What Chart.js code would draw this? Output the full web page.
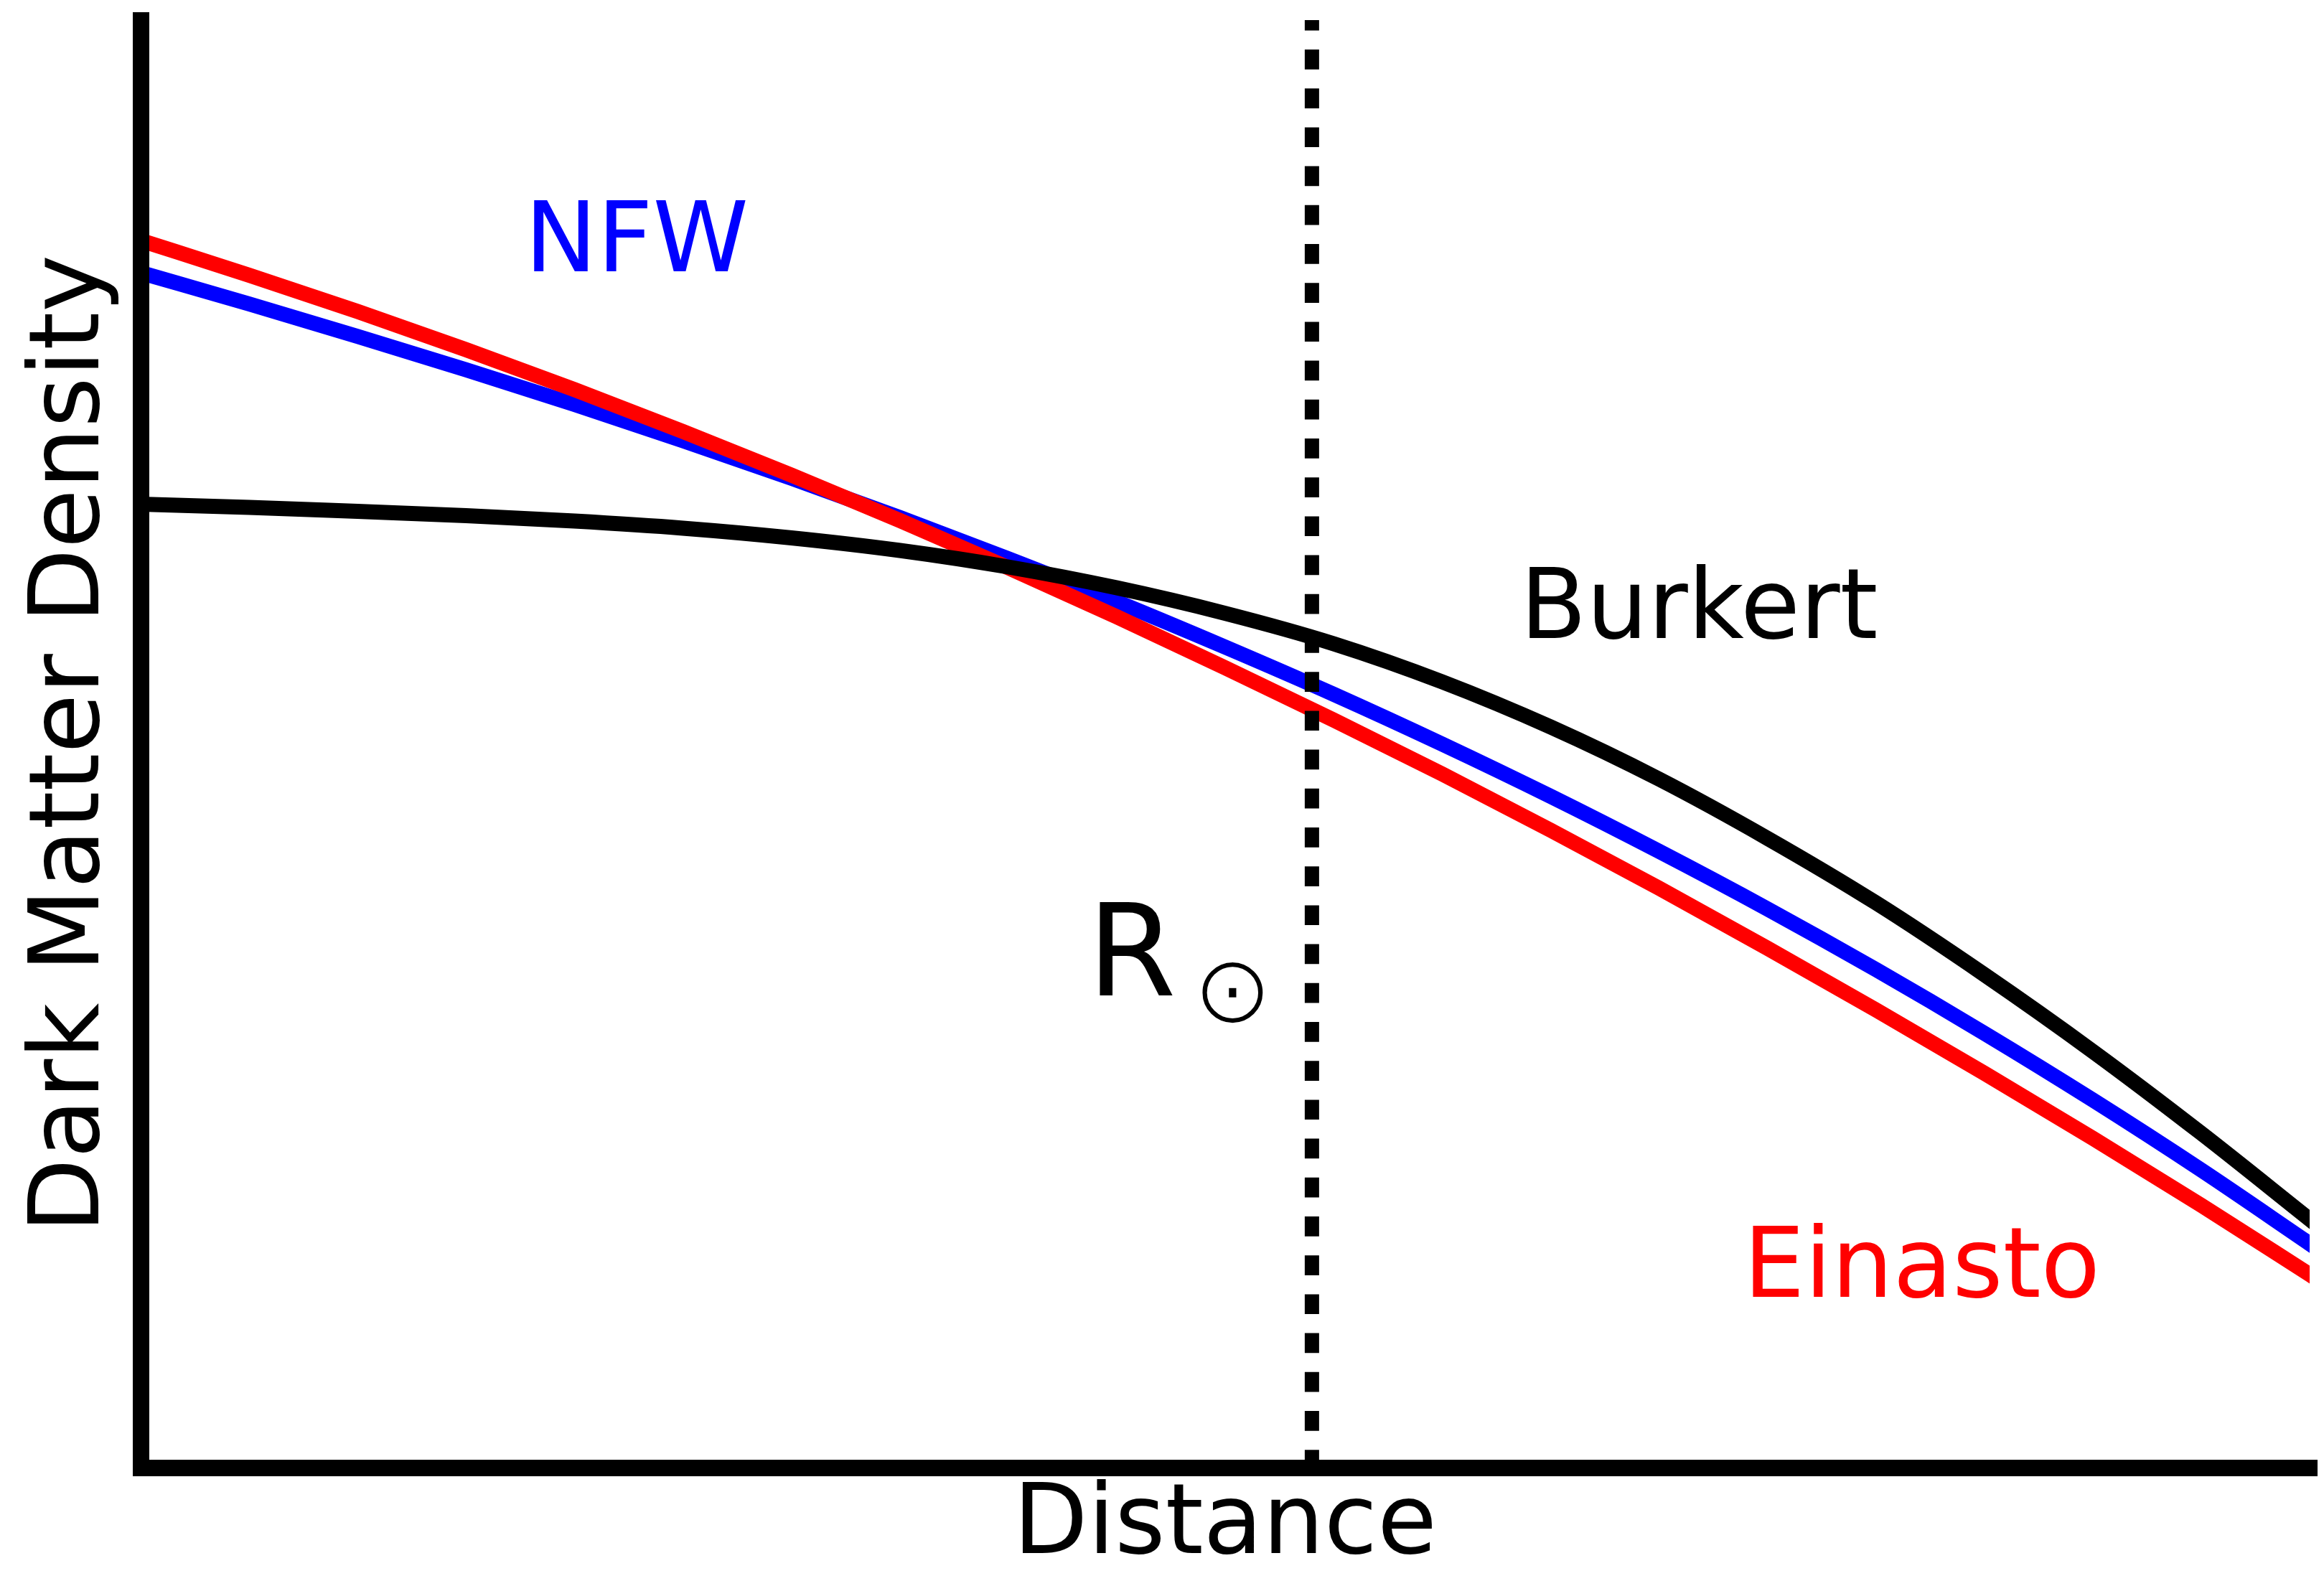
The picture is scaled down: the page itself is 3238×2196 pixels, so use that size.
<!DOCTYPE html>
<html>
<head>
<meta charset="utf-8">
<script src="https://cdn.jsdelivr.net/npm/chart.js@4.4.1/dist/chart.umd.min.js"></script>
<style>
  html, body { margin: 0; padding: 0; background: #ffffff; }
  #wrap { width: 3238px; height: 2196px; }
</style>
</head>
<body>
<div id="wrap"><canvas id="c" width="3238" height="2196"></canvas></div>
<script>
// ---- data ----
const distance = [0, 5, 10, 15, 20, 25, 30, 35, 40, 45, 50, 55, 60, 65, 70, 75, 80, 85, 90, 95, 100];
const nfw      = [82.55, 80.39, 78.15, 75.84, 73.45, 70.95, 68.35, 65.63, 62.79, 59.82, 56.69, 53.43, 49.99, 46.38, 42.58, 38.60, 34.41, 30.01, 25.40, 20.56, 15.47];
const einasto  = [84.78, 82.38, 79.87, 77.23, 74.47, 71.58, 68.57, 65.43, 62.17, 58.78, 55.26, 51.65, 47.92, 44.04, 40.03, 35.88, 31.63, 27.25, 22.76, 18.13, 13.34];
const burkert  = [66.56, 66.34, 66.06, 65.77, 65.39, 64.90, 64.23, 63.36, 62.22, 60.78, 59.02, 56.92, 54.29, 51.17, 47.57, 43.48, 39.02, 34.06, 28.76, 23.10, 17.15];
const sunDistance = 54;          // R_sun marker position on the distance axis
const xRange = [0, 100];
const yRange = [0, 100];
const seriesNames = ['NFW', 'Einasto', 'Burkert'];
const xTitle = 'Distance';
const yTitle = 'Dark Matter Density';

// ---- text annotations (data coordinates) ----
const annotations = [
  { text: 'NFW',     x: 17.7, y: 82.65, color: '#0000ff', size: 135 },
  { text: 'Burkert', x: 63.6, y: 57.3, color: '#000000', size: 135 },
  { text: 'Einasto', x: 73.9, y: 11.8, color: '#ff0000', size: 135 },
  { text: 'R',       x: 43.65, y: 32.6, color: '#000000', size: 178 }
];
const sunSymbol = { text: '\u2299', x: 50.35, y: 32.8, inkWidth: 88, thinning: 3.5 };

const toXY = (ys) => distance.map((d, i) => ({ x: d, y: ys[i] }));

const FONT = "'DejaVu Sans', 'Liberation Sans', sans-serif";

const labelPlugin = {
  id: 'labels',
  afterDraw(chart) {
    const ctx = chart.ctx;
    const xs = chart.scales.x, ys = chart.scales.y;
    ctx.save();
    ctx.textAlign = 'left';
    ctx.textBaseline = 'alphabetic';
    for (const a of annotations) {
      ctx.font = a.size + 'px ' + FONT;
      ctx.fillStyle = a.color;
      ctx.fillText(a.text, xs.getPixelForValue(a.x), ys.getPixelForValue(a.y));
    }
    // sun symbol: size it so its ink width matches, centre its ink on the point
    ctx.font = '100px ' + FONT;
    let m = ctx.measureText(sunSymbol.text);
    const w = m.actualBoundingBoxLeft + m.actualBoundingBoxRight;
    const size = 100 * sunSymbol.inkWidth / w;
    ctx.font = size.toFixed(2) + 'px ' + FONT;
    m = ctx.measureText(sunSymbol.text);
    const cx = xs.getPixelForValue(sunSymbol.x), cy = ys.getPixelForValue(sunSymbol.y);
    const ox = (m.actualBoundingBoxRight - m.actualBoundingBoxLeft) / 2;
    const oy = (m.actualBoundingBoxDescent - m.actualBoundingBoxAscent) / 2;
    const tx = cx - ox, ty = cy - oy;
    ctx.fillStyle = '#000000';
    ctx.fillText(sunSymbol.text, tx, ty);
    // thin the glyph strokes (the reference symbol is a hairline ring)
    ctx.strokeStyle = '#ffffff';
    ctx.lineWidth = sunSymbol.thinning;
    ctx.lineJoin = 'round';
    ctx.strokeText(sunSymbol.text, tx, ty);
    ctx.restore();
  }
};

const lineStyle = (color) => ({
  borderColor: color,
  backgroundColor: color,
  borderWidth: 21,
  pointRadius: 0,
  fill: false,
  cubicInterpolationMode: 'monotone',
  borderCapStyle: 'square',
  clip: 0
});

new Chart(document.getElementById('c'), {
  type: 'line',
  data: {
    datasets: [
      {
        label: 'R_sun',
        data: [{ x: sunDistance, y: yRange[1] }, { x: sunDistance, y: yRange[0] }],
        borderColor: '#000000',
        borderWidth: 20,
        borderDash: [27.7, 26.5],
        borderDashOffset: 13.2,
        borderCapStyle: 'butt',
        pointRadius: 0,
        fill: false,
        clip: 0
      },
      Object.assign({ label: seriesNames[2], data: toXY(burkert) }, lineStyle('#000000')),
      Object.assign({ label: seriesNames[1], data: toXY(einasto) }, lineStyle('#ff0000')),
      Object.assign({ label: seriesNames[0], data: toXY(nfw) }, lineStyle('#0000ff'))
    ]
  },
  options: {
    responsive: false,
    devicePixelRatio: 1,
    animation: false,
    layout: { padding: { top: 28, right: 20, left: 0, bottom: 0 } },
    plugins: { legend: { display: false }, tooltip: { enabled: false } },
    scales: {
      x: {
        type: 'linear',
        min: xRange[0], max: xRange[1],
        grid: { display: false, drawTicks: false, lineWidth: 22 },
        border: { display: true, color: '#000000', width: 23, z: 1 },
        ticks: { display: false },
        title: {
          display: true, text: xTitle, color: '#000000',
          font: { family: FONT, size: 135, lineHeight: 1 },
          padding: { top: 16, bottom: 0 }
        }
      },
      y: {
        type: 'linear',
        min: yRange[0], max: yRange[1],
        grid: { display: false, drawTicks: false, lineWidth: 22 },
        border: { display: true, color: '#000000', width: 23, z: 1 },
        ticks: { display: false },
        title: {
          display: true, text: yTitle, color: '#000000',
          font: { family: FONT, size: 135, lineHeight: 1 },
          padding: { top: 34, bottom: 27 }
        }
      }
    }
  },
  plugins: [labelPlugin]
});
</script>
</body>
</html>
